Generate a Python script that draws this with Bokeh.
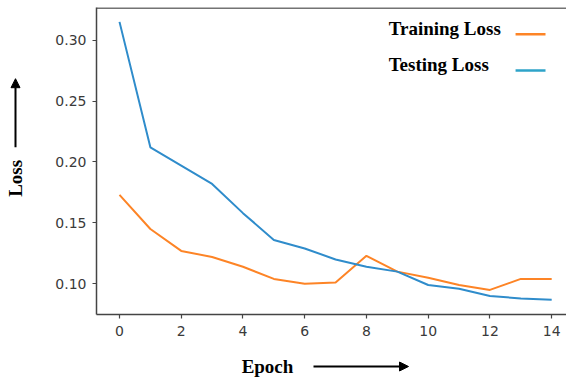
from bokeh.plotting import figure
from bokeh.models import Label, Arrow, NormalHead, Range1d, FixedTicker, Span
from bokeh.layouts import column, row
from bokeh.core.properties import value
from bokeh.embed import file_html
from bokeh.resources import INLINE

epochs = list(range(15))
training_loss = [0.173, 0.145, 0.127, 0.122, 0.114, 0.104, 0.100, 0.101, 0.123, 0.110,
                 0.105, 0.099, 0.095, 0.104, 0.104]
testing_loss = [0.315, 0.212, 0.197, 0.182, 0.158, 0.136, 0.129, 0.120, 0.114, 0.110,
                0.099, 0.096, 0.090, 0.088, 0.087]
x_ticks = [0, 2, 4, 6, 8, 10, 12, 14]
y_ticks = [0.10, 0.15, 0.20, 0.25, 0.30]
series_names = ["Training Loss", "Testing Loss"]
x_title = "Epoch"
y_title = "Loss"

ORANGE = "#fd8426"
BLUE = "#2f8ccb"
BLUE_LEG = "#2ea3c9"
FRAME = "#444444"
serif = "Liberation Serif"

LEFT_W = 40
MAIN_H = 345
TOTAL_W, TOTAL_H = 566, 378
Y_END = 0.3268

# ---------------- main plot ----------------
p = figure(width=TOTAL_W - LEFT_W, height=MAIN_H, output_backend="svg", toolbar_location=None,
           min_border_left=96 - LEFT_W, min_border_right=0, min_border_top=7,
           min_border_bottom=MAIN_H - 314,
           x_range=Range1d(-0.745, 14.48), y_range=Range1d(0.0748, Y_END))

p.line(epochs, training_loss, line_color=ORANGE, line_width=2)
p.line(epochs, testing_loss, line_color=BLUE, line_width=2)

p.xgrid.visible = False
p.ygrid.visible = False
p.outline_line_color = None
# top border only (the right border is cut off in the reference)
p.add_layout(Span(location=Y_END - 0.0005, dimension="width", line_color=FRAME, line_width=1.5))

for ax in (p.xaxis[0], p.yaxis[0]):
    ax.axis_line_color = FRAME
    ax.axis_line_width = 1.5
    ax.major_tick_line_color = FRAME
    ax.major_tick_line_width = 1.2
    ax.major_tick_out = 4
    ax.major_tick_in = 0
    ax.minor_tick_line_color = None
    ax.major_label_text_font = "DejaVu Sans"
    ax.major_label_text_font_size = "14px"
    ax.major_label_text_color = "#3a3a3a"

p.xaxis.major_label_standoff = 7
p.yaxis.major_label_standoff = 6
p.xaxis.ticker = FixedTicker(ticks=x_ticks)
p.yaxis.ticker = FixedTicker(ticks=y_ticks)
p.yaxis.major_label_overrides = {t: f"{t:.2f}" for t in y_ticks}

lbl_kw = dict(text_font=serif, text_font_style="bold", text_font_size="19px",
              text_color="black")

# Legend: text then swatch
p.add_layout(Label(x=8.72, y=0.3096, text=series_names[0], text_baseline="middle", **lbl_kw))
p.add_layout(Label(x=8.72, y=0.2800, text=series_names[1], text_baseline="middle", **lbl_kw))
p.segment(x0=[12.83], y0=[0.3049], x1=[13.80], y1=[0.3049], line_color=ORANGE, line_width=2.5)
p.segment(x0=[12.83], y0=[0.2751], x1=[13.80], y1=[0.2751], line_color=BLUE_LEG, line_width=2.5)


def deco_fig(w, h, x0, y0):
    f = figure(width=w, height=h, output_backend="svg", toolbar_location=None,
               min_border=0, x_axis_location=None, y_axis_location=None,
               x_range=Range1d(x0, x0 + w), y_range=Range1d(y0 + h, y0))
    f.outline_line_color = None
    f.xgrid.visible = False
    f.ygrid.visible = False
    return f


# ---------------- left strip: y title with arrow ----------------
left = deco_fig(LEFT_W, MAIN_H, 0, 0)
left.text(x=[15], y=[192], text=[y_title], angle=1.5708, text_align="center",
          text_baseline="middle", text_font=value(serif), text_font_style="bold",
          text_font_size="19px", text_color="black")
left.add_layout(Arrow(x_start=15, y_start=157, x_end=15, y_end=80,
                      line_width=2, line_color="black",
                      end=NormalHead(size=9, fill_color="black", line_color="black")))

# ---------------- bottom strip: x title with arrow ----------------
bottom = deco_fig(TOTAL_W, TOTAL_H - MAIN_H, 0, MAIN_H)
bottom.text(x=[267], y=[366], text=[x_title], text_align="center",
            text_baseline="middle", text_font=value(serif), text_font_style="bold",
            text_font_size="19px", text_color="black")
bottom.add_layout(Arrow(x_start=313, y_start=366, x_end=408, y_end=366,
                        line_width=2, line_color="black",
                        end=NormalHead(size=9, fill_color="black", line_color="black")))

layout = column(row(left, p, spacing=0), bottom, spacing=0)

open("out.html", "w").write(file_html(layout, INLINE))
